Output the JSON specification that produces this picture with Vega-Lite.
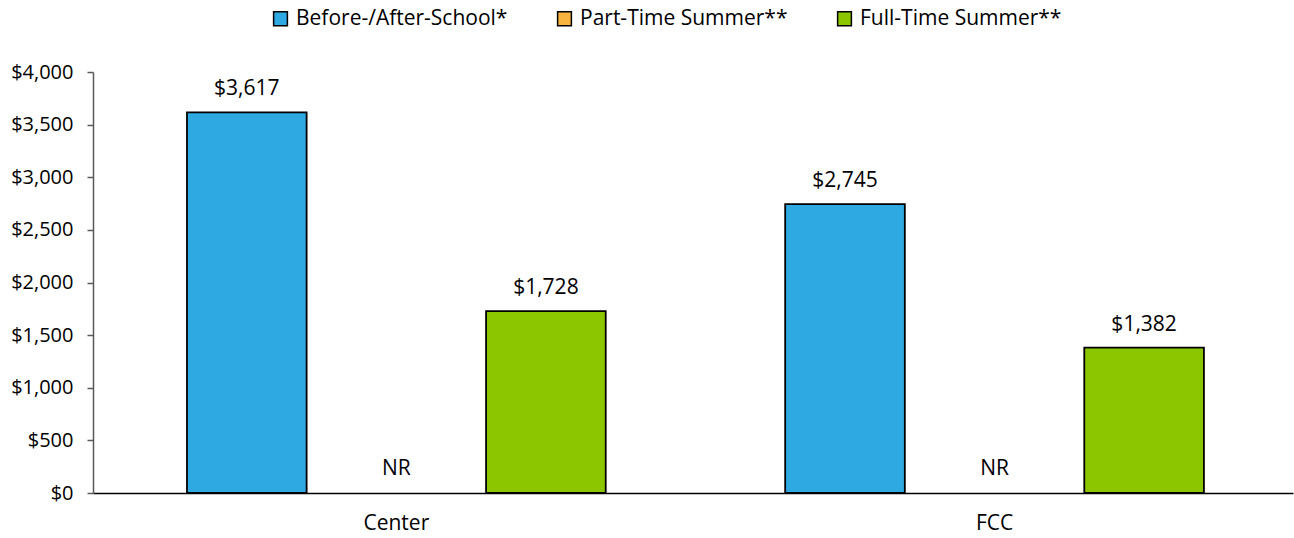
{
  "$schema": "https://vega.github.io/schema/vega-lite/v6.json",
  "width": 1200,
  "height": 421,
  "autosize": "none",
  "padding": {"left": 93, "top": 72, "right": 1, "bottom": 45},
  "config": {
    "font": "Open Sans",
    "view": {"stroke": null},
    "text": {"color": "black"}
  },
  "data": {
    "values": [
      {"setting": "Center", "type": "Before-/After-School*", "cost": 3617},
      {"setting": "Center", "type": "Part-Time Summer**", "cost": null, "note": "NR"},
      {"setting": "Center", "type": "Full-Time Summer**", "cost": 1728},
      {"setting": "FCC", "type": "Before-/After-School*", "cost": 2745},
      {"setting": "FCC", "type": "Part-Time Summer**", "cost": null, "note": "NR"},
      {"setting": "FCC", "type": "Full-Time Summer**", "cost": 1382}
    ]
  },
  "encoding": {
    "x": {
      "field": "setting",
      "type": "nominal",
      "sort": ["Center", "FCC"],
      "scale": {"paddingInner": 0.25, "paddingOuter": 0.128, "align": 0.516},
      "axis": {
        "title": null,
        "ticks": false,
        "labelAngle": 0,
        "labelFontSize": 21,
        "labelColor": "black",
        "labelPadding": 19,
        "domainColor": "black",
        "domainWidth": 1.5
      }
    },
    "xOffset": {
      "field": "type",
      "type": "nominal",
      "sort": ["Before-/After-School*", "Part-Time Summer**", "Full-Time Summer**"],
      "scale": {
        "domain": ["Before-/After-School*", "Part-Time Summer**", "Full-Time Summer**"],
        "paddingInner": 0.2,
        "paddingOuter": 0.1
      }
    }
  },
  "layer": [
    {
      "mark": {"type": "bar", "stroke": "black", "strokeWidth": 1.8},
      "encoding": {
        "y": {
          "field": "cost",
          "type": "quantitative",
          "scale": {"domain": [0, 4000], "nice": false},
          "axis": {
            "title": null,
            "grid": false,
            "values": [0, 500, 1000, 1500, 2000, 2500, 3000, 3500, 4000],
            "format": "$,.0f",
            "labelFontSize": 20,
            "labelColor": "black",
            "labelPadding": 14,
            "tickSize": 6,
            "tickColor": "#595959",
            "domainColor": "#595959",
            "domainWidth": 1.5,
            "tickWidth": 1.5
          }
        },
        "color": {
          "field": "type",
          "type": "nominal",
          "scale": {
            "domain": ["Before-/After-School*", "Part-Time Summer**", "Full-Time Summer**"],
            "range": ["#2EA9E1", "#F9B440", "#8CC600"]
          },
          "legend": {
            "title": null,
            "orient": "none",
            "legendX": 177,
            "legendY": -64,
            "direction": "horizontal",
            "symbolType": "square",
            "symbolSize": 190,
            "symbolStrokeColor": "black",
            "symbolStrokeWidth": 1.5,
            "symbolOpacity": 1,
            "labelFontSize": 21,
            "labelColor": "black",
            "labelOffset": 5,
            "labelLimit": 400,
            "columnPadding": 46
          }
        }
      }
    },
    {
      "mark": {"type": "text", "baseline": "alphabetic", "dy": -17, "fontSize": 21},
      "encoding": {
        "y": {"field": "cost", "type": "quantitative"},
        "text": {"field": "cost", "type": "quantitative", "format": "$,.0f"}
      }
    },
    {
      "transform": [{"filter": "datum.note == 'NR'"}],
      "mark": {"type": "text", "baseline": "alphabetic", "dy": -18, "fontSize": 21},
      "encoding": {
        "y": {"datum": 0, "type": "quantitative"},
        "text": {"field": "note"}
      }
    }
  ]
}
